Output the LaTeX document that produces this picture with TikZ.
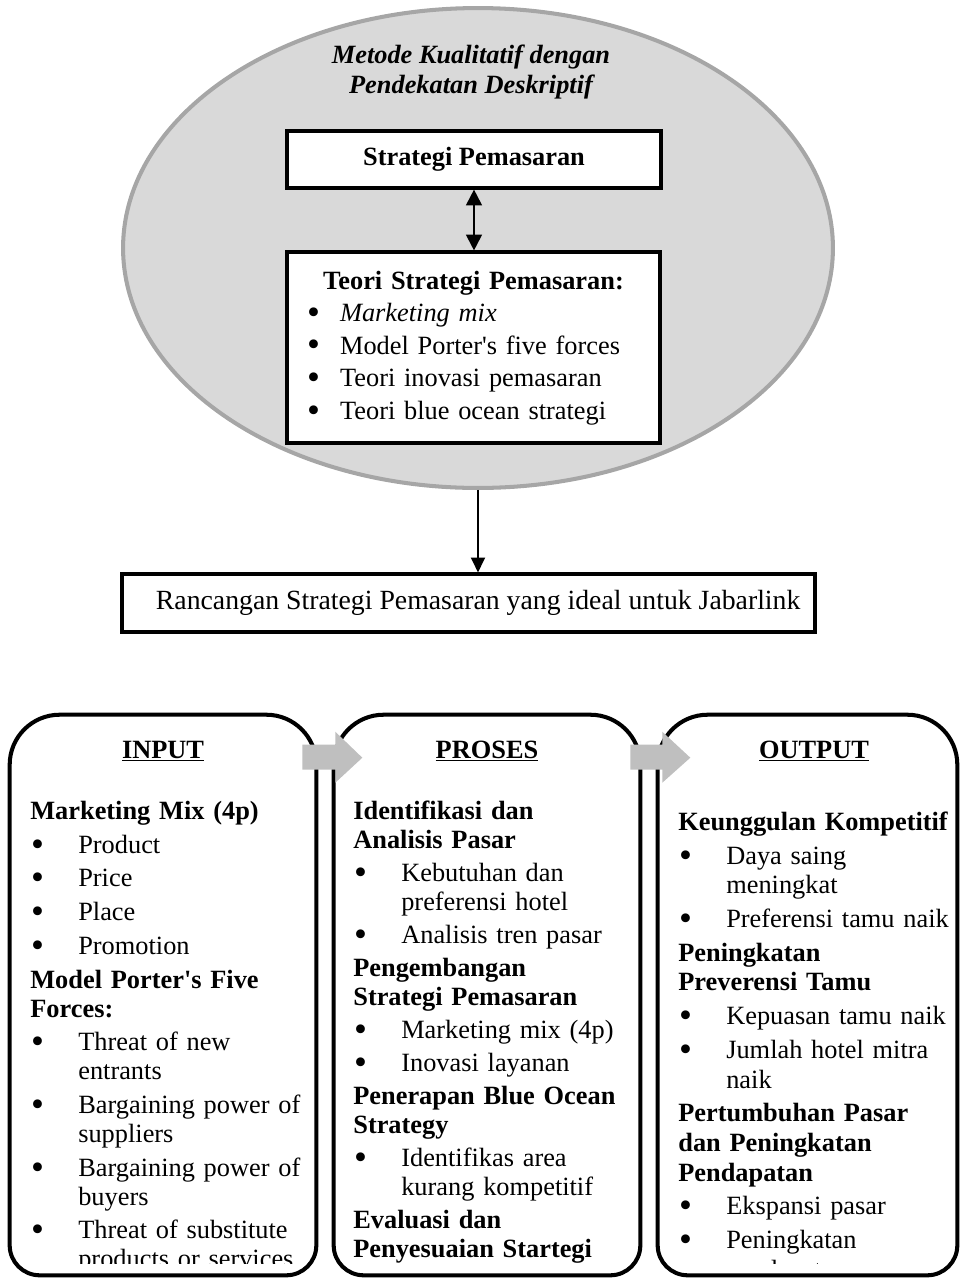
\documentclass[tikz,border=0pt]{standalone}
\usepackage{fontspec}
\setmainfont{Liberation Serif}
\usetikzlibrary{calc,shapes.geometric,arrows.meta}

\definecolor{ovalfill}{HTML}{D9D9D9}
\definecolor{ovaldraw}{HTML}{A6A6A6}
\definecolor{flowgray}{HTML}{BFBFBF}

\newcommand{\titik}{\raisebox{-1.7pt}{\fontsize{21}{21}\selectfont\textbullet}}
\newcommand{\judul}[1]{\par\noindent\strut\textbf{#1}}
\newcommand{\poin}[1]{\par\noindent\hangindent=27.3pt\hangafter=1\strut\hspace*{0.5pt}\makebox[26.8pt][l]{\titik}#1}
\newcommand{\teoripoin}[1]{\par\noindent\strut\hspace*{11.5pt}\makebox[18.7pt][l]{\titik}#1}

\begin{document}
\begin{tikzpicture}[
            x=0.02cm, y=-0.02cm,
            oval/.style={ellipse, fill=ovalfill, draw=ovaldraw, line width=2.3pt, minimum width=14.2cm, minimum height=9.6cm, inner sep=0pt},
            box/.style={draw=black, fill=white, line width=1.8pt, inner sep=0pt, font=\fontsize{15}{18.5}\selectfont},
            panel/.style={draw=black, line width=2.3pt},
            panelframe/.style={minimum width=6.12cm, minimum height=11.2cm, inner sep=0pt},
            paneltitle/.style={anchor=base, font=\fontsize{15}{18}\selectfont\bfseries},
            paneltext/.style={anchor=north west, inner sep=0pt, text width=6.2cm, align=left, font=\fontsize{15}{16.5}\selectfont},
            link/.style={line width=1.1pt, -{Triangle[length=8.5pt,width=8pt]}},
            duallink/.style={line width=1.1pt, {Triangle[length=9pt,width=9pt]}-{Triangle[length=9pt,width=9pt]}},
            flow/.style={fill=flowgray},
        ]
            \useasboundingbox (0,0) rectangle (960,1279);
            %% method oval
            \node[oval] (metode) at (478,248) {};
            \node[font=\fontsize{15}{17}\selectfont\bfseries\itshape, align=center] (metodelabel) at (471,72) {Metode Kualitatif dengan\\Pendekatan Deskriptif};
            %% boxes
            \node[box, minimum width=7.48cm, minimum height=1.14cm, font=\fontsize{15}{18.5}\selectfont\bfseries] (strategi) at (474,159.5) {Strategi Pemasaran};
            \node[box, minimum width=7.46cm, minimum height=3.82cm, text width=7.46cm, align=left] (teori) at (473.5,347.5) {\raggedright
                {\centering\strut\textbf{Teori Strategi Pemasaran:}\par}
                \teoripoin{\textit{Marketing mix}}
                \teoripoin{Model Porter\textquotesingle s five forces}
                \teoripoin{Teori inovasi pemasaran}
                \teoripoin{Teori blue ocean strategi}\par};
            \node[box, minimum width=13.86cm, minimum height=1.16cm, font=\fontsize{15.8}{18.5}\selectfont] (rancangan) at (468.5,603) {\hspace*{11pt}Rancangan Strategi Pemasaran yang ideal untuk Jabarlink};
            %% arrows
            \draw[duallink] (strategi.south) -- (strategi.south |- teori.north);
            \draw[link] (metode.south) -- (metode.south |- rancangan.north);
            %% panels
            \node[panelframe] (input) at (163,995) {};
            \node[panelframe] (proses) at (487,995) {};
            \node[panelframe, minimum width=5.98cm] (output) at (807.5,995) {};
            \foreach \p in {input,proses,output}
                \draw[panel] (\p.west) [rounded corners=0.6cm] -- (\p.south west) -- (\p.south east) -- (\p.east) [rounded corners=1cm] -- (\p.north east) -- (\p.north west) -- cycle;
            %% flow arrows
            \fill[flow] ($(input.north east)+(-14,30)$) -- ++(33,0) -- ++(0,-13) -- ++(27,26) -- ++(-27,25) -- ++(0,-13) -- ++(-33,0) -- cycle;
            \fill[flow] ($(proses.north east)+(-10,30)$) -- ++(32,0) -- ++(0,-13) -- ++(28,26) -- ++(-28,25) -- ++(0,-13) -- ++(-32,0) -- cycle;
            %% titles
            \node[paneltitle] (inputtitle) at (163,758) {\underline{INPUT}};
            \node[paneltitle] (prosestitle) at (487,758) {\underline{PROSES}};
            \node[paneltitle] (outputtitle) at (814,758) {\underline{OUTPUT}};
            %% contents
            \begin{scope}
                \clip (0,700) rectangle (960,1263);
                \node[paneltext] (inputtext) at (30,798.7) {\raggedright\setlength{\parskip}{2.7pt}%
                    \strut\textbf{Marketing Mix (4p)}
                    \poin{Product}
                    \poin{Price}
                    \poin{Place}
                    \poin{Promotion}
                    \judul{Model Porter\textquotesingle s Five\newline Forces:}
                    \poin{Threat of new\newline entrants}
                    \poin{Bargaining power of\newline suppliers}
                    \poin{Bargaining power of\newline buyers}
                    \poin{Threat of substitute\newline products or services}\par};
                \node[paneltext] (prosestext) at (353,798.7) {\raggedright\setlength{\parskip}{2.3pt}%
                    \strut\textbf{Identifikasi dan\newline Analisis Pasar}
                    \poin{Kebutuhan dan\newline preferensi hotel}
                    \poin{Analisis tren pasar}
                    \judul{Pengembangan\newline Strategi Pemasaran}
                    \poin{Marketing mix (4p)}
                    \poin{Inovasi layanan}
                    \judul{Penerapan Blue Ocean\newline Strategy}
                    \poin{Identifikas area\newline kurang kompetitif}
                    \judul{Evaluasi dan\newline Penyesuaian Startegi}\par};
                \node[paneltext, font=\fontsize{15}{16.9}\selectfont] (outputtext) at (678,809.2) {\raggedright\setlength{\parskip}{2.3pt}%
                    \strut\textbf{Keunggulan Kompetitif}
                    \poin{Daya saing\newline meningkat}
                    \poin{Preferensi tamu naik}
                    \judul{Peningkatan\newline Preverensi Tamu}
                    \poin{Kepuasan tamu naik}
                    \poin{Jumlah hotel mitra\newline naik}
                    \judul{Pertumbuhan Pasar\newline dan Peningkatan\newline Pendapatan}
                    \poin{Ekspansi pasar}
                    \poin{Peningkatan\newline pendapatan}\par};
            \end{scope}
        \end{tikzpicture}
\end{document}
